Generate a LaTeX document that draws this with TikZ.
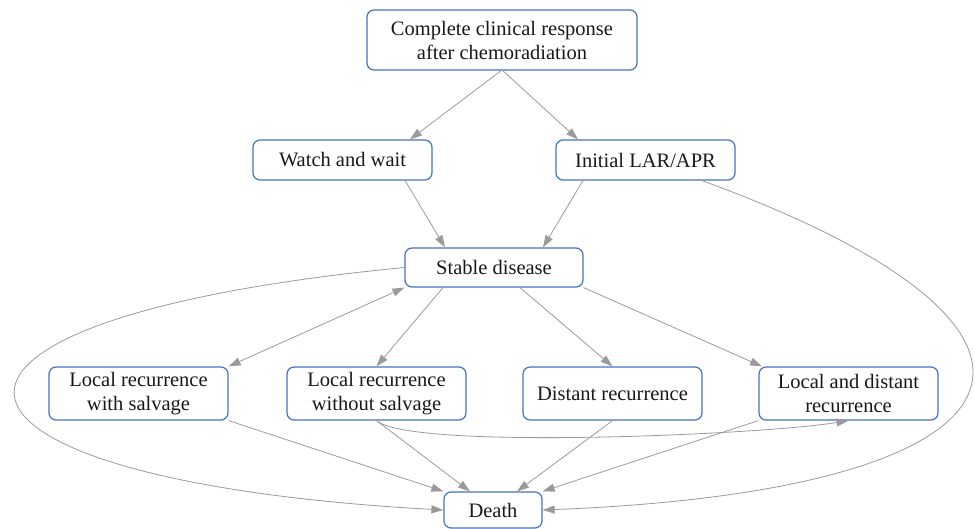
\documentclass[tikz,border=0pt]{standalone}
\usepackage{fontspec}
\setmainfont{DejaVu Serif}
\newfontfamily\tnr{Liberation Serif}
\usetikzlibrary{arrows.meta}
\definecolor{boxblue}{HTML}{4472C4}
\definecolor{edgegray}{HTML}{9A9A9A}
\begin{document}
\begin{tikzpicture}[x=1pt,y=-1pt,
  box/.style={draw=boxblue,line width=1.2pt,rounded corners=7pt,fill=white,
    font=\tnr\fontsize{20.5}{24}\selectfont,align=center,inner sep=2pt,text=black!90},
  edge/.style={draw=edgegray,line width=0.8pt,-{Triangle[length=12pt,width=8pt,fill=edgegray]}},
  bedge/.style={draw=edgegray,line width=0.8pt,{Triangle[length=12pt,width=8pt,fill=edgegray]}-{Triangle[length=12pt,width=8pt,fill=edgegray]}}]
\useasboundingbox (0,0) rectangle (975,528);
\node[box,minimum width=270pt,minimum height=60pt] (top) at (502,40) {Complete clinical response\\after chemoradiation};
\node[box,minimum width=179pt,minimum height=40pt] (ww) at (342.5,160) {Watch and wait};
\node[box,minimum width=179pt,minimum height=40pt] (lar) at (645.5,160) {Initial LAR/APR};
\node[box,minimum width=178pt,minimum height=39pt] (sd) at (494,267.5) {Stable disease};
\node[box,minimum width=179pt,minimum height=53pt] (lrs) at (138.5,393.5) {Local recurrence\\with salvage};
\node[box,minimum width=179pt,minimum height=53pt] (lrn) at (376.5,393.5) {Local recurrence\\without salvage};
\node[box,minimum width=179pt,minimum height=53pt] (dr) at (612.5,393.5) {Distant recurrence};
\node[box,minimum width=179pt,minimum height=53pt] (ld) at (848.5,393.5) {Local and distant\\recurrence};
\node[box,minimum width=98pt,minimum height=36pt] (death) at (493,510) {Death};

\coordinate (topb) at (502,70);
\draw[edge] (topb) -- (ww.north -| 410,0);
\draw[edge] (topb) -- (lar.north -| 578,0);
\draw[edge] (ww.south -| 405,0) -- (sd.north -| 445,0);
\draw[edge] (lar.south -| 583,0) -- (sd.north -| 543,0);
\draw[bedge] (sd.south west) -- (lrs.north east);
\draw[edge] (sd.south -| 443,0) -- (lrn.north);
\draw[edge] (sd.south -| 520,0) -- (dr.north);
\draw[edge] (sd.south east) -- (ld.north -| 762,0);
\draw[edge] (lrs.south east) -- (death.north west);
\draw[edge] (lrn.south) -- (death.north -| 470,0);
\draw[edge] (dr.south) -- (death.north -| 517,0);
\draw[edge] (ld.south west) -- (death.north east);
\draw[edge] (lrn.south) .. controls (410,450) and (760,435) .. (ld.south);
\draw[edge] (sd.west) .. controls (-140,320) and (-100,480) .. (death.west);
\draw[edge] (lar.south -| 702,0) .. controls (1112,330) and (1052,490) .. (death.east);
\end{tikzpicture}
\end{document}
